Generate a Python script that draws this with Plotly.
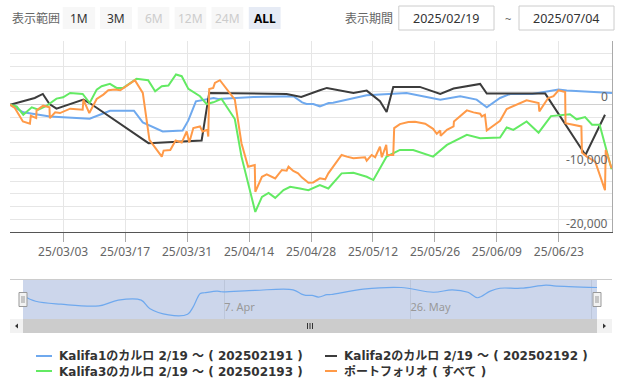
import plotly.graph_objects as go

# ---------------- data ----------------
KALIFA1_DATES = ["2025-02-19", "2025-02-22", "2025-02-28", "2025-03-09", "2025-03-13 14:00",
                 "2025-03-19", "2025-03-21", "2025-03-25 12:00", "2025-03-30", "2025-03-31 07:00",
                 "2025-04-02", "2025-04-03", "2025-04-06", "2025-04-07", "2025-04-15",
                 "2025-04-24", "2025-04-26", "2025-04-27", "2025-04-28 12:00", "2025-04-30",
                 "2025-05-02", "2025-05-03", "2025-05-10 14:00", "2025-05-19 14:00", "2025-05-27 05:00",
                 "2025-05-31 17:00", "2025-06-04 10:00", "2025-06-06 17:00", "2025-06-09 17:00", "2025-06-12",
                 "2025-06-17", "2025-06-22 22:00", "2025-06-24 19:00", "2025-07-05"]
KALIFA1_VALUES = [0, -1200, -1840, -2200, -950,
                  -950, -2790, -4210, -4050, -2470,
                  530, 680, 1050, 900, 1210,
                  1320, 370, 100, 100, -260,
                  260, 300, 1470, 1840, 790,
                  1320, 790, -420, 1050, 1680,
                  1680, 2370, 2210, 1840]

KALIFA2_DATES = ["2025-02-19", "2025-02-20 12:00", "2025-02-24 14:00", "2025-02-26 10:00", "2025-02-27 22:00",
                 "2025-03-01 12:00", "2025-03-07 14:00", "2025-03-09", "2025-03-22 07:00", "2025-04-03 07:00",
                 "2025-04-05", "2025-04-22 12:00", "2025-04-25 19:00", "2025-04-30", "2025-05-01 14:00",
                 "2025-05-07 14:00", "2025-05-10 14:00", "2025-05-13 14:00", "2025-05-15 02:00", "2025-05-16 14:00",
                 "2025-05-22 14:00", "2025-05-27 05:00", "2025-05-30 05:00", "2025-06-05 05:00", "2025-06-06 17:00",
                 "2025-06-19 22:00", "2025-06-29", "2025-07-03 10:00"]
KALIFA2_VALUES = [0, 300, 1050, 1680, 100,
                  -630, 790, 260, -6050, -5630,
                  1840, 1680, 1210, 2260, 2630,
                  1840, 2210, 530, -1160, 2790,
                  2790, 1680, 2530, 3260, 1740,
                  1740, -7900, -1580]

KALIFA3_DATES = ["2025-02-19", "2025-02-20 12:00", "2025-02-22", "2025-02-23 22:00", "2025-02-25 10:00",
                 "2025-02-27 07:00", "2025-03-01 12:00", "2025-03-03", "2025-03-04 14:00", "2025-03-07 10:00",
                 "2025-03-09", "2025-03-10 14:00", "2025-03-11 17:00", "2025-03-13 14:00", "2025-03-15 02:00",
                 "2025-03-16 14:00", "2025-03-19 14:00", "2025-03-22 05:00", "2025-03-23 19:00", "2025-03-25 07:00",
                 "2025-03-26 19:00", "2025-03-28 12:00", "2025-03-29 19:00", "2025-03-31 07:00", "2025-04-02 22:00",
                 "2025-04-04 10:00", "2025-04-05 22:00", "2025-04-07 19:00", "2025-04-10 19:00", "2025-04-12 07:00",
                 "2025-04-15 10:00", "2025-04-16 22:00", "2025-04-18 10:00", "2025-04-19 22:00", "2025-04-21 19:00",
                 "2025-04-23 07:00", "2025-04-25 12:00", "2025-04-27 10:00", "2025-04-30", "2025-05-01 22:00",
                 "2025-05-04 22:00", "2025-05-07 14:00", "2025-05-10 14:00", "2025-05-12 02:00", "2025-05-15 02:00",
                 "2025-05-18 02:00", "2025-05-21 02:00", "2025-05-25 14:00", "2025-05-28 17:00", "2025-06-02 05:00",
                 "2025-06-05 05:00", "2025-06-09 17:00", "2025-06-11 05:00", "2025-06-12 17:00", "2025-06-15 17:00",
                 "2025-06-18 10:00", "2025-06-21 05:00", "2025-06-25 12:00", "2025-06-27", "2025-06-28 22:00",
                 "2025-06-30 12:00", "2025-07-02 05:00", "2025-07-04 22:00"]
KALIFA3_VALUES = [0, -260, -1580, -420, -790,
                  -160, 950, 1160, 1840, 1680,
                  260, 2370, 2900, 3260, 2630,
                  2630, 4050, 3840, 2110, 2900,
                  3000, 4740, 4470, 2480, 1320,
                  100, 370, 900, -2260, -8160,
                  -16850, -14480, -13850, -14640, -13420,
                  -12900, -13160, -13420, -12630, -13160,
                  -10790, -10690, -11320, -11840, -8160,
                  -7110, -7110, -8160, -6320, -4740,
                  -5270, -5160, -3580, -3950, -2630,
                  -4400, -1800, -1500, -2300, -1950,
                  -3160, -3160, -10160]

PORTFOLIO_DATES = ["2025-02-19", "2025-02-20 02:00", "2025-02-21 22:00", "2025-02-23 12:00", "2025-02-23 17:00",
                   "2025-02-24 22:00", "2025-02-25", "2025-02-26 12:00", "2025-02-27 22:00", "2025-02-28",
                   "2025-03-01 05:00", "2025-03-02 07:00", "2025-03-04 14:00", "2025-03-07 10:00", "2025-03-07 14:00",
                   "2025-03-08 22:00", "2025-03-10 14:00", "2025-03-12 02:00", "2025-03-13 05:00", "2025-03-14 17:00",
                   "2025-03-15 22:00", "2025-03-19 05:00", "2025-03-21", "2025-03-22 12:00", "2025-03-25 07:00",
                   "2025-03-25 17:00", "2025-03-27 05:00", "2025-03-28 10:00", "2025-03-29 19:00", "2025-03-30 22:00",
                   "2025-03-31 12:00", "2025-04-01 10:00", "2025-04-02 22:00", "2025-04-03 12:00", "2025-04-04 14:00",
                   "2025-04-04 19:00", "2025-04-05", "2025-04-05 22:00", "2025-04-06 07:00", "2025-04-07 10:00",
                   "2025-04-10 19:00", "2025-04-12 07:00", "2025-04-13 19:00", "2025-04-15 07:00", "2025-04-15 10:00",
                   "2025-04-16 22:00", "2025-04-18", "2025-04-19 22:00", "2025-04-21 10:00", "2025-04-22 12:00",
                   "2025-04-22 22:00", "2025-04-24", "2025-04-25 02:00", "2025-04-25 22:00", "2025-04-27 10:00",
                   "2025-04-28 12:00", "2025-04-30", "2025-05-01 05:00", "2025-05-01 22:00", "2025-05-03",
                   "2025-05-04 22:00", "2025-05-06 02:00", "2025-05-07 14:00", "2025-05-10 05:00", "2025-05-10 14:00",
                   "2025-05-11 17:00", "2025-05-12 12:00", "2025-05-13 14:00", "2025-05-14", "2025-05-15",
                   "2025-05-15 05:00", "2025-05-16 14:00", "2025-05-16 19:00", "2025-05-18 02:00", "2025-05-20",
                   "2025-05-21 12:00", "2025-05-23 19:00", "2025-05-25 14:00", "2025-05-26 10:00", "2025-05-27 05:00",
                   "2025-05-27 07:00", "2025-05-28 17:00", "2025-05-30 05:00", "2025-05-30 07:00", "2025-06-02 05:00",
                   "2025-06-03 17:00", "2025-06-05 05:00", "2025-06-05 14:00", "2025-06-06 07:00", "2025-06-06 17:00",
                   "2025-06-09 17:00", "2025-06-11 05:00", "2025-06-12 17:00", "2025-06-14 05:00", "2025-06-15 17:00",
                   "2025-06-18 10:00", "2025-06-18 14:00", "2025-06-20 14:00", "2025-06-21 19:00", "2025-06-22 22:00",
                   "2025-06-24 10:00", "2025-06-24 12:00", "2025-06-26 05:00", "2025-06-28 02:00", "2025-06-28 05:00",
                   "2025-06-29 07:00", "2025-07-01 05:00", "2025-07-03 10:00", "2025-07-03 14:00", "2025-07-04 22:00"]
PORTFOLIO_VALUES = [0, -530, -2630, -3000, -1740,
                    -2110, -900, -160, -420, -2110,
                    -1210, -1320, -630, -790, 790,
                    -1320, 900, 1580, 2260, 2370,
                    2260, 3840, 1840, -5530, -8160,
                    -7210, -7110, -5630, -5950, -4210,
                    -5950, -3680, -3420, -4210, -3950,
                    -5000, 2470, 2630, 3420, 3840,
                    790, -6050, -9740, -9480, -13690,
                    -11320, -10950, -11580, -10260, -10370,
                    -9740, -10420, -10790, -11420, -12270,
                    -12210, -11580, -11730, -10790, -9740,
                    -7900, -8160, -8420, -8260, -8790,
                    -7900, -8260, -6580, -8260, -6320,
                    -7900, -7900, -3680, -3050, -2740,
                    -2680, -3000, -3790, -4580, -4050,
                    -4900, -3950, -3420, -2630, -900,
                    -1210, -1420, -1840, -1580, -4050,
                    -2530, -680, -260, 160, 680,
                    260, -1050, 1050, 1320, 2260,
                    2000, -2900, -3160, -3420, -7500,
                    -8160, -8950, -13420, -7110, -10000]

SERIES_NAMES = ["Kalifa1のカルロ 2/19 〜 ( 202502191 )",
                "Kalifa2のカルロ 2/19 〜 ( 202502192 )",
                "Kalifa3のカルロ 2/19 〜 ( 202502193 )",
                "ポートフォリオ ( すべて )"]
SERIES_COLORS = ["#6fa9ee", "#3c3c3c", "#63ea63", "#ff9a48"]

Y_TICKS = [-20000, -10000, 0]
X_RANGE = ["2025-02-19", "2025-07-05"]
Y_RANGE = [-20000, 10000]
NAV_Y_RANGE = [-5100, 3600]
NAV_TICK_POS = ["2025-04-07 17:00", "2025-05-21 19:00", "2025-07-03 14:00"]
NAV_TICK_TEXT = ["7. Apr", "26. May", ""]
RANGE_BUTTONS = ["1M", "3M", "6M", "12M", "24M", "ALL"]
START_DATE_TEXT = "2025/02/19"
END_DATE_TEXT = "2025/07/04"

# ---------------- layout helpers (pixel -> paper) ----------------
W, H = 621, 391
def px(x):
    return x / W
def py(y):
    return 1 - y / H

FONT = "Noto Sans, Noto Sans CJK JP, sans-serif"
LEGEND_FONT = "DejaVu Sans, Noto Sans CJK JP, sans-serif"

fig = go.Figure()

series = [(KALIFA1_DATES, KALIFA1_VALUES), (KALIFA2_DATES, KALIFA2_VALUES),
          (KALIFA3_DATES, KALIFA3_VALUES), (PORTFOLIO_DATES, PORTFOLIO_VALUES)]
for (xs, ys), name, color in zip(series, SERIES_NAMES, SERIES_COLORS):
    fig.add_trace(go.Scatter(x=xs, y=ys, name=name, mode="lines",
                             line=dict(color=color, width=2),
                             xaxis="x", yaxis="y", showlegend=False, hoverinfo="skip"))

# navigator series (first series, smoothed)
fig.add_trace(go.Scatter(x=KALIFA1_DATES, y=KALIFA1_VALUES, mode="lines",
                         line=dict(color=SERIES_COLORS[0], width=1.2, shape="spline", smoothing=1.0),
                         xaxis="x2", yaxis="y2", showlegend=False, hoverinfo="skip"))

shapes = []
annotations = []

def rect(x0, y0, x1, y1, fill, line_color=None, line_width=0, layer="above"):
    shapes.append(dict(type="rect", xref="paper", yref="paper",
                       x0=px(x0), x1=px(x1), y0=py(y1), y1=py(y0),
                       fillcolor=fill, layer=layer,
                       line=dict(color=line_color or fill, width=line_width)))

def hline(x0, x1, y, color, width=1):
    shapes.append(dict(type="line", xref="paper", yref="paper",
                       x0=px(x0), x1=px(x1), y0=py(y), y1=py(y),
                       line=dict(color=color, width=width)))

def vline(x, y0, y1, color, width=1):
    shapes.append(dict(type="line", xref="paper", yref="paper",
                       x0=px(x), x1=px(x), y0=py(y0), y1=py(y1),
                       line=dict(color=color, width=width)))

def tri(points, color):
    path = "M " + " L ".join(f"{px(a)},{py(b)}" for a, b in points) + " Z"
    shapes.append(dict(type="path", xref="paper", yref="paper", path=path,
                       fillcolor=color, line=dict(color=color, width=0)))

def text(x, y, s, size=12, color="#333", anchor="left", bold=False, family=FONT):
    if bold:
        s = f"<b>{s}</b>"
    annotations.append(dict(xref="paper", yref="paper", x=px(x), y=py(y), text=s,
                            showarrow=False, xanchor=anchor, yanchor="middle", align="left",
                            font=dict(family=family, size=size, color=color)))

# ---- toolbar ----
text(10, 18, "表示範囲", 12, "#666")
btn_x = [(62.7, 95.2), (100, 132), (137.7, 169.4), (174.6, 206.3), (211.5, 243.3), (248.8, 280.6)]
btn_state = ["on", "on", "off", "off", "off", "sel"]
for label, (a, b), st in zip(RANGE_BUTTONS, btn_x, btn_state):
    fill = "#e6ebf5" if st == "sel" else "#f7f7f7"
    rect(a, 7, b, 29, fill)
    col = {"on": "#333", "off": "#cccccc", "sel": "#000"}[st]
    text((a + b) / 2, 18, label, 12, col, anchor="center", bold=(st == "sel"))

text(343, 18, "表示期間", 12, "#666")
rect(398.8, 6, 494, 30, "#ffffff", "#cccccc", 1)
text(446.4, 18, START_DATE_TEXT, 12.5, "#333", anchor="center")
text(508, 19, "~", 11, "#666", anchor="center")
rect(519, 6, 614, 30, "#ffffff", "#cccccc", 1)
text(566.5, 18, END_DATE_TEXT, 12.5, "#333", anchor="center")

# ---- y-axis labels: right-aligned inside the plot, sitting on their grid lines ----
for v in Y_TICKS:
    annotations.append(dict(xref="paper", yref="y", x=px(609.5), y=v, text=f"{v:,}",
                            showarrow=False, xanchor="right", yanchor="bottom", yshift=-2,
                            font=dict(family=FONT, size=12, color="#666")))

# ---- navigator ----
rect(23, 279, 597, 319, "#ccd6eb", layer="below")
hline(10, 612, 279.5, "#cccccc")
for hx0, hx1 in [(19, 27), (593, 601)]:
    rect(hx0, 292.5, hx1, 306.5, "#f2f2f2", "#999999", 1)
    vline(hx0 + 3, 296, 303, "#999999")
    vline(hx0 + 5, 296, 303, "#999999")

# ---- scrollbar ----
rect(23, 319, 597, 333, "#cccccc")
rect(10, 319, 23, 333, "#f2f2f2", "#f2f2f2", 0)
rect(597, 319, 612, 333, "#f2f2f2", "#f2f2f2", 0)
tri([(15, 326), (18, 323.5), (18, 328.5)], "#333")
tri([(606, 326), (603, 323.5), (603, 328.5)], "#333")
for gx in (307.5, 310, 312.5):
    vline(gx, 323, 329, "#333")

# ---- legend (two columns, two rows) ----
legend_marks = [(36, 52, 356), (325, 337, 356), (36, 52, 371), (325, 337, 371)]
for (l0, l1, ty), color in zip(legend_marks, SERIES_COLORS):
    hline(l0, l1, ty, color, 2)
text(57, 363.5, "<b>" + SERIES_NAMES[0] + "</b><br><b>" + SERIES_NAMES[2] + "</b>",
     12, "#333", family=LEGEND_FONT)
text(342, 363.5, "<b>" + SERIES_NAMES[1] + "</b><br><b>" + SERIES_NAMES[3] + "</b>",
     12, "#333", family=LEGEND_FONT)

fig.update_layout(
    width=W, height=H,
    margin=dict(l=0, r=0, t=0, b=0),
    paper_bgcolor="#ffffff", plot_bgcolor="#ffffff",
    showlegend=False,
    font=dict(family=FONT, size=12, color="#666"),
    xaxis=dict(domain=[px(10), px(612)], type="date", range=X_RANGE,
               tick0="2025-03-03", dtick=14 * 86400000, tickformat="%y/%m/%d",
               showgrid=True, gridcolor="#e6e6e6", gridwidth=1,
               ticks="outside", ticklen=9, tickcolor="#aaaaaa",
               showline=True, linecolor="#555555", linewidth=1,
               tickfont=dict(family=FONT, size=12, color="#666"),
               zeroline=False, fixedrange=True, anchor="y"),
    yaxis=dict(domain=[py(232), py(41)], range=Y_RANGE, side="right",
               tickvals=Y_TICKS, showticklabels=False,
               showgrid=True, gridcolor="#e6e6e6",
               minor=dict(dtick=2000, showgrid=True, gridcolor="#e6e6e6"),
               zeroline=True, zerolinecolor="#d0d0d0", zerolinewidth=1,
               showline=True, linecolor="#aaaaaa", linewidth=1,
               fixedrange=True, anchor="x"),
    xaxis2=dict(domain=[px(23), px(597)], type="date", range=X_RANGE,
                tickvals=NAV_TICK_POS, ticktext=NAV_TICK_TEXT,
                ticklabelposition="inside right",
                showgrid=True, gridcolor="#bcc6da", showline=False, zeroline=False,
                tickfont=dict(family=FONT, size=11, color="#999"),
                fixedrange=True, anchor="y2"),
    yaxis2=dict(domain=[py(319), py(279.5)], range=NAV_Y_RANGE, visible=False,
                showgrid=False, zeroline=False, fixedrange=True, anchor="x2"),
    shapes=shapes,
    annotations=annotations,
)

fig.write_html("out.html", config={"displayModeBar": False},
               post_script="document.body.style.margin='0';document.body.style.overflow='hidden';")
